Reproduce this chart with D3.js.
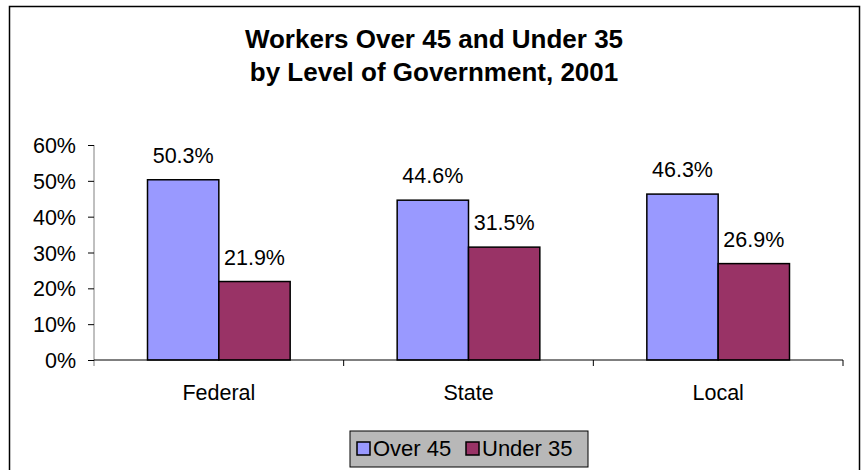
<!DOCTYPE html>
<html>
<head>
<meta charset="utf-8">
<script src="https://cdn.jsdelivr.net/npm/d3@7"></script>
<style>
  html, body { margin: 0; padding: 0; background: #fff; }
  svg { display: block; font-family: Arial, "Liberation Sans", sans-serif; }
</style>
</head>
<body>
<svg id="chart" width="863" height="470"></svg>
<script>
// Share of workers by age band for each level of government
const categories = ["Federal", "State", "Local"];
const seriesNames = ["Over 45", "Under 35"];
const over45 = [50.3, 44.6, 46.3];
const under35 = [21.9, 31.5, 26.9];
const yTicks = [0, 10, 20, 30, 40, 50, 60];
const colors = ["#9999ff", "#993366"];

const FONT = "Arial, 'Liberation Sans', sans-serif";
const svg = d3.select("#chart");

// Outer frame
svg.append("rect")
  .attr("x", 9.5).attr("y", 6.5)
  .attr("width", 850).attr("height", 470)
  .attr("fill", "#fff").attr("stroke", "#000").attr("stroke-width", 1.5);

// Title
const title = svg.append("text")
  .attr("text-anchor", "middle")
  .attr("font-weight", "bold")
  .attr("font-size", 26)
  .attr("fill", "#000");
title.append("tspan").attr("x", 434).attr("y", 48).text("Workers Over 45 and Under 35");
title.append("tspan").attr("x", 434).attr("y", 81).text("by Level of Government, 2001");

const plot = { left: 94, right: 843, top: 145, bottom: 360 };

const x = d3.scaleBand()
  .domain(categories)
  .range([plot.left, plot.right])
  .paddingInner(0).paddingOuter(0);

const y = d3.scaleLinear()
  .domain([0, 60])
  .range([plot.bottom, plot.top]);

// Two bars per category, with a gap of 150% of a bar width
const barW = x.bandwidth() / 3.5;
const xs = d3.scaleBand().domain(seriesNames).range([0, barW * 2]);

const data = categories.map((c, i) => ({
  cat: c,
  vals: [
    { s: seriesNames[0], v: over45[i], color: colors[0] },
    { s: seriesNames[1], v: under35[i], color: colors[1] }
  ]
}));

// Y axis
const yAxis = d3.axisLeft(y)
  .tickValues(yTicks)
  .tickFormat(d => d + "%")
  .tickSize(6)
  .tickPadding(12);
const gy = svg.append("g")
  .attr("transform", `translate(${plot.left},0)`)
  .call(yAxis);
gy.select(".domain").attr("stroke", "#808080").attr("d", `M0,${plot.top}V${plot.bottom + 6}`);
gy.selectAll(".tick line").attr("stroke", "#000");
gy.selectAll(".tick text")
  .attr("font-size", 21.5)
  .attr("font-family", FONT)
  .attr("fill", "#000")
  .attr("dy", "0.35em");

// Bars
const groups = svg.append("g").selectAll("g")
  .data(data)
  .join("g")
  .attr("transform", d => `translate(${x(d.cat) + (x.bandwidth() - barW * 2) / 2},0)`);

groups.selectAll("rect")
  .data(d => d.vals)
  .join("rect")
  .attr("x", d => xs(d.s))
  .attr("y", d => y(d.v))
  .attr("width", xs.bandwidth())
  .attr("height", d => y(0) - y(d.v))
  .attr("fill", d => d.color)
  .attr("stroke", "#000")
  .attr("stroke-width", 1.5);

groups.selectAll("text.val")
  .data(d => d.vals)
  .join("text")
  .attr("class", "val")
  .attr("x", d => xs(d.s) + xs.bandwidth() / 2)
  .attr("y", d => y(d.v) - 17)
  .attr("text-anchor", "middle")
  .attr("font-size", 21.5)
  .attr("fill", "#000")
  .text(d => d.v.toFixed(1) + "%");

// X axis
const xAxis = d3.axisBottom(x).tickSize(0).tickPadding(25);
const gx = svg.append("g")
  .attr("transform", `translate(0,${plot.bottom})`)
  .call(xAxis);
gx.select(".domain").attr("stroke", "#000").attr("d", `M${plot.left},0H${plot.right}`);
gx.selectAll(".tick text")
  .attr("font-size", 21.5)
  .attr("font-family", FONT)
  .attr("fill", "#000");
// Separator ticks between categories
const bounds = categories.map(c => x(c) + x.bandwidth());
gx.selectAll("line.sep")
  .data(bounds)
  .join("line")
  .attr("class", "sep")
  .attr("x1", d => d).attr("x2", d => d)
  .attr("y1", 0).attr("y2", 6)
  .attr("stroke", "#000");

// Legend
const legend = svg.append("g").attr("transform", "translate(350,431)");
legend.append("rect")
  .attr("width", 238).attr("height", 36)
  .attr("fill", "#b8b8b8").attr("stroke", "#000").attr("stroke-width", 1);
const legendX = [7, 116];
seriesNames.forEach((s, i) => {
  legend.append("rect")
    .attr("x", legendX[i]).attr("y", 11)
    .attr("width", 13).attr("height", 13)
    .attr("fill", colors[i]).attr("stroke", "#000").attr("stroke-width", 1.5);
  legend.append("text")
    .attr("x", legendX[i] + 16).attr("y", 25)
    .attr("font-size", 22)
    .attr("fill", "#000")
    .text(s);
});
</script>
</body>
</html>
